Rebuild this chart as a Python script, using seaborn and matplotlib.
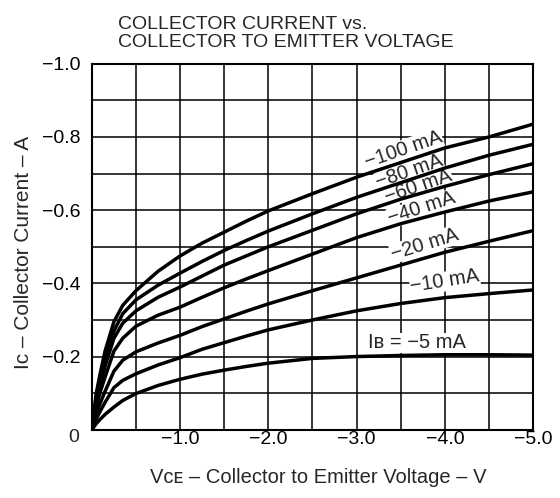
import numpy as np
import seaborn as sns
import matplotlib.pyplot as plt

# ===============================
# Data
# ===============================
VCE = [0, -0.05, -0.1, -0.15, -0.25, -0.35, -0.5, -0.75, -1.0, -1.25, -1.5,
       -1.75, -2.0, -2.5, -3.0, -3.5, -4.0, -4.5, -5.0]

IC_100 = [0, -0.10, -0.16, -0.215, -0.295, -0.34, -0.38, -0.433, -0.475, -0.51,
          -0.54, -0.57, -0.598, -0.645, -0.69, -0.73, -0.77, -0.80, -0.835]
IC_80 = [0, -0.09, -0.145, -0.192, -0.27, -0.317, -0.355, -0.395, -0.428, -0.46,
         -0.49, -0.517, -0.543, -0.59, -0.635, -0.675, -0.715, -0.75, -0.78]
IC_60 = [0, -0.08, -0.13, -0.174, -0.25, -0.291, -0.325, -0.362, -0.39, -0.42,
         -0.45, -0.475, -0.50, -0.545, -0.59, -0.63, -0.665, -0.697, -0.727]
IC_40 = [0, -0.065, -0.107, -0.144, -0.215, -0.25, -0.283, -0.313, -0.335, -0.362,
         -0.388, -0.412, -0.435, -0.48, -0.525, -0.563, -0.595, -0.625, -0.65]
IC_20 = [0, -0.045, -0.076, -0.105, -0.16, -0.19, -0.213, -0.237, -0.258, -0.282,
         -0.303, -0.324, -0.344, -0.38, -0.415, -0.45, -0.485, -0.515, -0.544]
IC_10 = [0, -0.03, -0.053, -0.075, -0.115, -0.135, -0.153, -0.177, -0.197, -0.22,
         -0.238, -0.256, -0.273, -0.30, -0.325, -0.345, -0.361, -0.372, -0.382]
IC_5 = [0, -0.017, -0.03, -0.042, -0.062, -0.08, -0.099, -0.121, -0.138, -0.152,
        -0.163, -0.173, -0.182, -0.195, -0.20, -0.203, -0.205, -0.205, -0.204]

CURVES = [IC_100, IC_80, IC_60, IC_40, IC_20, IC_10, IC_5]

LABELS = ["\u2212100 mA", "\u221280 mA", "\u221260 mA", "\u221240 mA",
          "\u221220 mA", "\u221210 mA", "I\u0299 = \u22125 mA"]
LABEL_X = [-3.53, -3.60, -3.70, -3.74, -3.77, -4.0, -3.68]
LABEL_Y = [-0.765, -0.705, -0.665, -0.605, -0.507, -0.405, -0.238]
LABEL_ROT = [19, 19, 19, 18, 17, 9, 0]

# ===============================
# Figure
# ===============================
sns.set_style("white")
plt.rcParams["font.family"] = ["Liberation Sans", "DejaVu Sans"]

fig = plt.figure(figsize=(5.6, 4.98), dpi=100)
ax = fig.add_axes([0.164, 0.137, 0.788, 0.735])

for ic in CURVES:
    sns.lineplot(x=VCE, y=ic, color="black", linewidth=2.5, ax=ax,
                 estimator=None, sort=False, zorder=3)

ax.set_xlim(0, -5.0)
ax.set_ylim(0, -1.0)

# grid: 0.5 V and 0.1 A divisions
ax.grid(True, color="black", linewidth=1.1)
ax.set_axisbelow(True)
ax.tick_params(length=0, labelsize=14, colors="black")

xt = np.arange(0, -5.01, -0.5)
yt = np.arange(0, -1.01, -0.1)
ax.set_xticks(xt)
ax.set_xticklabels(["" if (i % 2 or i == 0) else f"\u2212{abs(v):.1f}"
                    for i, v in enumerate(xt)])
ax.set_yticks(yt)
ax.set_yticklabels(["" if (i % 2 or i == 0) else f"\u2212{abs(v):.1f}"
                    for i, v in enumerate(yt)])
ax.tick_params(axis="x", pad=1)
ax.tick_params(axis="y", pad=8)

for s in ax.spines.values():
    s.set_color("black")
    s.set_linewidth(1.5)

# origin label
fig.text(74 / 560, 1 - 437 / 498, "0", fontsize=14, ha="center", va="center")

# curve labels
for lab, x, y, r in zip(LABELS, LABEL_X, LABEL_Y, LABEL_ROT):
    ax.text(x, y, lab, fontsize=14.5, rotation=r, ha="center", va="center",
            rotation_mode="anchor", zorder=2,
            bbox=dict(facecolor="white", edgecolor="none", pad=0.3))

# titles / axis labels
fig.text(118 / 560, 1 - 29 / 498, "COLLECTOR CURRENT vs.", fontsize=14,
         ha="left", va="baseline")
fig.text(118 / 560, 1 - 47 / 498, "COLLECTOR TO EMITTER VOLTAGE", fontsize=14,
         ha="left", va="baseline")
fig.text(487 / 560, 1 - 483 / 498,
         "V\u1d04\u1d07 \u2013 Collector to Emitter Voltage \u2013 V",
         fontsize=14.5, ha="right", va="baseline")
fig.text(24 / 560, 1 - 252 / 498, "I\u1d04 \u2013 Collector Current \u2013 A",
         fontsize=15, rotation=90, ha="center", va="center")

fig.savefig("out.png", dpi=100, facecolor="white")
